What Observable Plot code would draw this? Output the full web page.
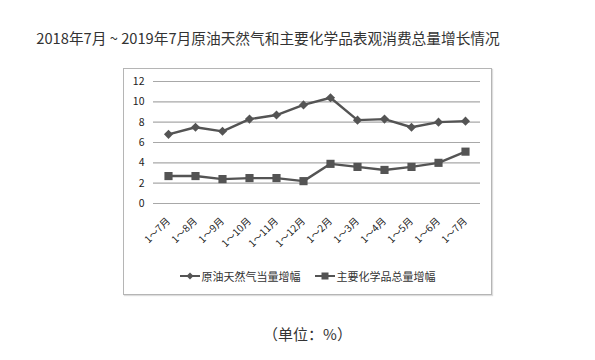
<!DOCTYPE html>
<html>
<head>
<meta charset="utf-8">
<script src="https://cdn.jsdelivr.net/npm/d3@7"></script>
<script src="https://cdn.jsdelivr.net/npm/@observablehq/plot@0.6"></script>
<style>
  html, body { margin: 0; padding: 0; background: #fff; }
  body { width: 595px; height: 360px; position: relative; overflow: hidden;
         font-family: "Noto Sans CJK SC", "Noto Sans", sans-serif; }
  #title { position: absolute; left: 0; width: 536px; top: 28px; text-align: center;
           font-size: 14.7px; color: #333; line-height: 20px; white-space: nowrap; }
  #box { position: absolute; left: 123px; top: 68px; width: 367px; height: 225px;
         border: 1px solid #b5b5b5; box-shadow: 1px 1px 1px #ddd; background: #fff; }
  #chart { position: absolute; left: 0; top: 0; }
  #legend { position: absolute; left: 0; width: 367px; top: 199px; text-align: center;
            font-size: 11px; color: #333; line-height: 16px; white-space: nowrap; }
  .item { display: inline-flex; align-items: center; margin: 0 7px; }
  .item svg { margin-right: 2px; }
  #caption { position: absolute; left: 0; width: 615px; top: 324px; text-align: center;
             font-size: 15px; color: #333; line-height: 20px; }
</style>
</head>
<body>
<div id="title"></div>
<div id="box">
  <div id="chart"></div>
  <div id="legend"></div>
</div>
<div id="caption"></div>
<script>
const titleText = "2018年7月 ~ 2019年7月原油天然气和主要化学品表观消费总量增长情况";
const captionText = "（单位：%）";
const months = ["1～7月","1～8月","1～9月","1～10月","1～11月","1～12月","1～2月","1～3月","1～4月","1～5月","1～6月","1～7月"];
const oilGas = [6.8, 7.5, 7.1, 8.3, 8.7, 9.7, 10.4, 8.2, 8.3, 7.5, 8.0, 8.1];
const chemicals = [2.7, 2.7, 2.4, 2.5, 2.5, 2.2, 3.9, 3.6, 3.3, 3.6, 4.0, 5.1];
const seriesNames = ["原油天然气当量增幅", "主要化学品总量增幅"];
const seriesSymbols = ["diamond2", "square"];
const yTicks = [0, 2, 4, 6, 8, 10, 12];

document.getElementById("title").textContent = titleText;
document.getElementById("caption").textContent = captionText;

const idx = d3.range(months.length);
const rows = [];
[oilGas, chemicals].forEach((vals, s) => {
  vals.forEach((v, i) => rows.push({i, v, s: seriesNames[s], sym: seriesSymbols[s]}));
});

const color = "#545454";
const chart = Plot.plot({
  width: 367, height: 190,
  marginLeft: 29, marginRight: 11, marginTop: 12, marginBottom: 56,
  style: {fontFamily: '"Noto Sans CJK SC", "Noto Sans", sans-serif', fontSize: "10px", color: "#222", background: "transparent"},
  x: {type: "point", domain: idx, padding: 0.5},
  y: {domain: [0, 12]},
  marks: [
    Plot.gridY(yTicks, {stroke: "#a8a8a8", strokeOpacity: 1, strokeWidth: 1.2}),
    Plot.axisY(yTicks, {tickSize: 0, tickPadding: 9, label: null, fontSize: 10.5}),
    Plot.axisX(idx, {tickSize: 0, tickPadding: 16, tickRotate: -45, label: null, tickFormat: i => months[i], fontSize: 10}),
    Plot.lineY(rows, {x: "i", y: "v", z: "s", stroke: color, strokeWidth: 2.4}),
    Plot.dot(rows.filter(d => d.sym === "diamond2"), {x: "i", y: "v", symbol: "diamond2", r: 4.1, fill: color}),
    Plot.dot(rows.filter(d => d.sym === "square"), {x: "i", y: "v", symbol: "square", r: 4.6, fill: color})
  ]
});
document.getElementById("chart").appendChild(chart);

const legend = document.getElementById("legend");
seriesNames.forEach((name, s) => {
  const item = document.createElement("span");
  item.className = "item";
  const mark = s === 0
    ? '<polygon points="10,1.5 13.5,5 10,8.5 6.5,5" fill="' + color + '"/>'
    : '<rect x="6.5" y="1.5" width="7" height="7" fill="' + color + '"/>';
  item.innerHTML = '<svg width="20" height="10"><line x1="0" x2="20" y1="5" y2="5" stroke="' + color + '" stroke-width="2"/>' + mark + '</svg><span></span>';
  item.querySelector("span").textContent = name;
  legend.appendChild(item);
});
</script>
</body>
</html>
